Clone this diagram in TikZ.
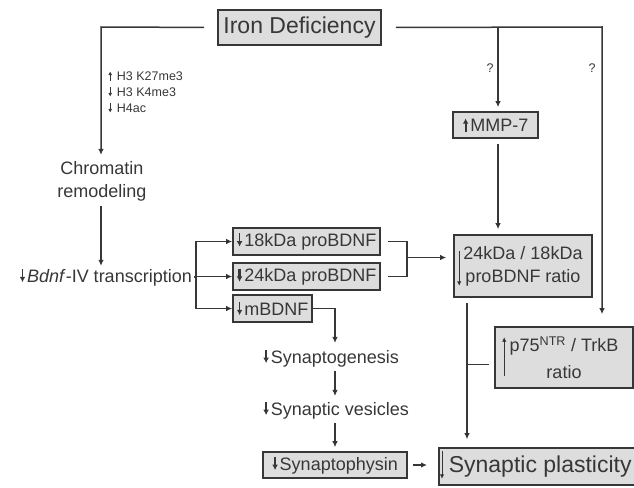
\documentclass[tikz,border=0pt]{standalone}
\usepackage{fontspec}
\setmainfont{Liberation Sans}
\usetikzlibrary{arrows.meta}
\definecolor{ink}{RGB}{55,55,55}
\definecolor{boxfill}{RGB}{221,221,222}
\newcommand{\bigfont}{\fontsize{23}{27}\selectfont}
\newcommand{\midfont}{\fontsize{18}{23}\selectfont}
\newcommand{\smallfont}{\fontsize{12.5}{16}\selectfont}
\newcommand{\arrdn}[1][0.07em]{\tikz[baseline=0pt]\draw[ink, line width=#1, -{Latex[length=0.3em,width=0.32em]}] (0pt,0.74em) -- (0pt,0pt);\hspace{0.1em}}
\newcommand{\arrup}[1][0.07em]{\tikz[baseline=0pt]\draw[ink, line width=#1, -{Latex[length=0.3em,width=0.32em]}] (0pt,0pt) -- (0pt,0.74em);\hspace{0.1em}}

\begin{document}
\begin{tikzpicture}[x=1pt, y=-1pt,
                    line/.style={draw=ink, line width=1.5pt},
                    arr/.style={line, -{Latex[length=6pt,width=5.5pt]}},
                    inarr/.style={draw=ink, line width=1pt, -{Latex[length=4.5pt,width=4.5pt]}},
                    box/.style={draw=ink, line width=1.6pt, fill=boxfill, text=ink, inner sep=0pt, font=\midfont},
                    plain/.style={text=ink, inner sep=2pt, font=\midfont}]
  \useasboundingbox (0,0) rectangle (634,487);
  \node[box, font=\bigfont, minimum width=163pt, minimum height=35pt] (Iron) at (299.5,27.5) {Iron Deficiency};
  \node[plain, font=\smallfont, anchor=west, align=left] (Hist) at (106,92) {\arrup\ H3 K27me3\\\arrdn\ H3 K4me3\\\arrdn\ H4ac};
  \node[plain, align=center] (Chrom) at (102,181) {Chromatin\\remodeling};
  \node[plain, anchor=east] (Bdnf) at (194,277) {\arrdn[0.09em]\textit{Bdnf}-IV transcription};
  \node[box, minimum width=147pt, minimum height=27pt] (P18) at (306.5,241.5) {\arrdn[0.05em]18kDa proBDNF};
  \node[box, minimum width=147pt, minimum height=27pt] (P24) at (306.5,276.5) {\arrdn[0.12em]24kDa proBDNF};
  \node[box, minimum width=79pt, minimum height=27pt] (MB) at (272.5,308.5) {\arrdn mBDNF};
  \node[box, minimum width=85pt, minimum height=26pt] (MMP) at (495.5,125) {\arrup[0.12em]MMP-7};
  \node[plain, font=\smallfont] (Q1) at (490,68) {?};
  \node[plain, font=\smallfont] (Q2) at (592,68) {?};
  \node[box, align=center, minimum width=138pt, minimum height=62pt] (Ratio) at (523,266) {24kDa / 18kDa\\proBDNF ratio};
  \node[box, align=center, minimum width=138pt, minimum height=61pt] (P75) at (564,357.5) {p75\textsuperscript{NTR} / TrkB\\[4pt]ratio};
  \node[plain, anchor=west] (Syng) at (261,358) {\arrdn Synaptogenesis};
  \node[plain, anchor=west] (Vesi) at (261,410) {\arrdn Synaptic vesicles};
  \node[box, minimum width=144pt, minimum height=26pt] (Phys) at (335,465) {\arrdn Synaptophysin};
  \node[box, font=\bigfont, anchor=west, minimum height=37pt, inner xsep=3pt] (Plast) at (438,466.5) {\hspace{7pt}Synaptic plasticity};

  \coordinate (Lc) at (101,27);
  \coordinate (Mc) at (498,27);
  \coordinate (Rc) at (602,27);
  \coordinate (Fk) at (196,277);
  \coordinate (Bk) at (407,257.5);
  \coordinate (Col) at (335,308.5);
  \coordinate (Rv) at (467,300);

  \draw[arr, shorten <=13pt, shorten >=4pt] (Iron.west) -- (Lc) -- (Lc |- Chrom.north);
  \draw[arr, shorten <=3pt] (Lc |- Chrom.south) -- (Lc |- Bdnf.north);
  \draw[arr, shorten <=14pt, shorten >=12pt] (Iron.east) -- (Rc) -- (Rc |- P75.north);
  \draw[arr, shorten >=4pt] (Mc) -- (Mc |- MMP.north);
  \draw[arr, shorten <=5pt, shorten >=5pt] (Mc |- MMP.south) -- (Mc |- Ratio.north);
  \draw[line] (Bdnf.east) -- (Fk);
  \draw[arr] (Fk |- MB.west) -- (Fk |- P18.west) -- (P18.west);
  \draw[arr] (Fk |- P24.west) -- (P24.west);
  \draw[arr] (Fk |- MB.west) -- (MB.west);
  \draw[line, shorten <=7pt, shorten >=7pt] (P18.east) -| (Bk) |- (P24.east);
  \draw[arr, shorten >=7pt] (Bk) -- (Bk -| Ratio.west);
  \draw[arr, shorten >=4pt] (MB.east) -| (Col |- Syng.north);
  \draw[arr, shorten <=2pt, shorten >=3pt] (Col |- Syng.south) -- (Col |- Vesi.north);
  \draw[arr, shorten <=2pt, shorten >=4pt] (Col |- Vesi.south) -- (Col |- Phys.north);
  \draw[arr, shorten <=5pt, shorten >=11pt] (Phys.east) -- (Phys.east -| Plast.west);
  \draw[arr, shorten <=5pt, shorten >=8pt] (Rv |- Ratio.south) -- (Rv |- Plast.north);
  \draw[line, shorten <=5pt] ([yshift=-7pt]P75.west) -- ([yshift=-7pt]P75.west -| Rv);

  \draw[inarr] ([xshift=6pt,yshift=-17pt]Ratio.north west) -- ([xshift=6pt,yshift=12pt]Ratio.south west);
  \draw[inarr] ([xshift=10pt,yshift=13pt]P75.south west) -- ([xshift=10pt,yshift=-11pt]P75.north west);
  \draw[inarr] ([xshift=4pt,yshift=-4pt]Plast.north west) -- ([xshift=4pt,yshift=7pt]Plast.south west);
\end{tikzpicture}
\end{document}
